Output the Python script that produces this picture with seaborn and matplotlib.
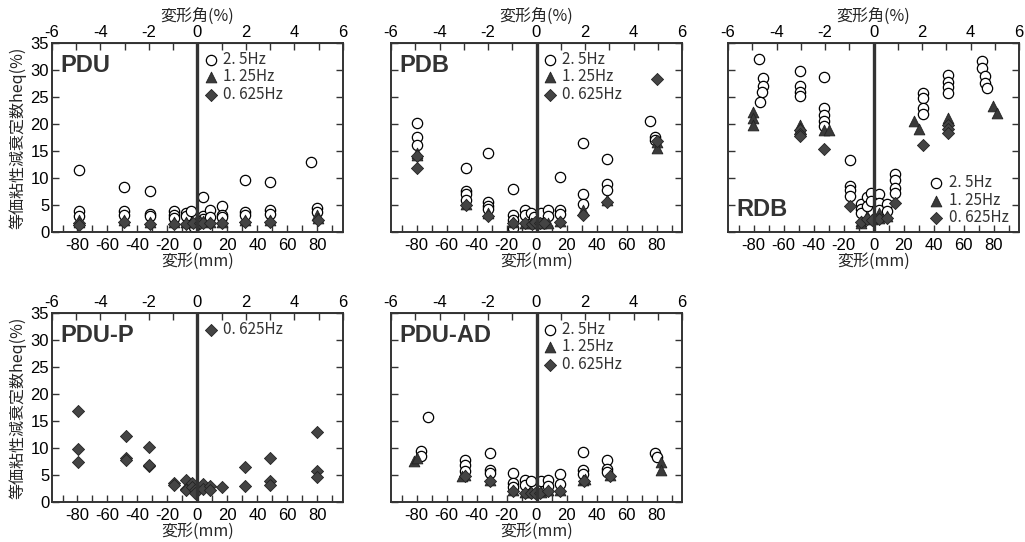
import matplotlib
matplotlib.use("Agg")
import matplotlib.pyplot as plt
import seaborn as sns
import pandas as pd
from matplotlib.ticker import FixedLocator

# ---- data (x: deformation mm, y: heq %) ----
FREQS = ["2. 5Hz", "1. 25Hz", "0. 625Hz"]

PDU_X_25 = [-79, -79, -79, -49, -49, -49, -31.6, -31.6, -31.6, -15.6, -15.6, -15.6,
            -7.6, -7.6, -4.5, -2, 4, 4, 4, 8.4, 8.4, 16.2, 16.2, 16.2, 31.8, 31.8, 31.8,
            48.4, 48.4, 48.4, 75.5, 79.5, 79.5]
PDU_Y_25 = [11.4, 3.8, 2.9, 8.4, 3.8, 3.2, 7.6, 3.3, 2.9, 3.8, 3.1, 2.6,
            3.6, 3.0, 3.8, 1.0, 6.4, 3.0, 2.5, 4.0, 2.8, 4.8, 3.2, 2.7, 9.7, 3.7, 3.2,
            9.3, 4.1, 3.4, 13.0, 4.4, 3.7]
PDU_X_125 = [-79, -79, -49, -31.6, -15.6, -7.6, -3.5, -1, 2, 4, 8.4, 16.2, 31.8, 48.4, 79.5, 80.5]
PDU_Y_125 = [2.2, 1.8, 2.3, 1.9, 1.8, 1.8, 1.9, 2.0, 2.0, 2.0, 1.8, 1.9, 2.3, 2.3, 3.1, 2.6]
PDU_X_0625 = [-79, -79, -49, -31.6, -15.6, -7.6, -3, 2, 4, 8.4, 16.2, 31.8, 48.4, 80.5]
PDU_Y_0625 = [1.7, 1.3, 1.9, 1.4, 1.5, 1.4, 1.6, 1.7, 1.7, 1.6, 1.7, 1.9, 1.9, 2.2]

PDB_X_25 = [-79.5, -79.5, -79.5, -47.3, -47.3, -47.3, -47.3, -32.2, -32.2, -32.2, -32.2,
            -15.8, -15.8, -15.8, -15.8, -7.8, -7.8, -4, -1.5, 3, 7.8, 7.8, 15.8, 15.8, 15.8,
            30.7, 30.7, 30.7, 46.7, 46.7, 46.7, 75.6, 78.7, 78.7]
PDB_Y_25 = [20.1, 17.6, 16.1, 11.9, 7.6, 7.0, 6.0, 14.6, 5.6, 4.9, 4.2,
            8.0, 3.1, 2.3, 0.8, 4.1, 3.1, 3.5, 2.8, 3.6, 4.0, 3.0, 10.1, 4.0, 3.3,
            16.5, 7.0, 5.1, 13.5, 8.9, 7.7, 20.6, 17.5, 17.0]
PDB_X_125 = [-79.5, -79.5, -47.3, -32.2, -15.8, -7.8, -4, -1, 3, 7.8, 15.8, 30.7, 46.7, 80.5, 80.5]
PDB_Y_125 = [14.6, 14.2, 5.2, 3.6, 1.8, 1.7, 1.6, 1.6, 1.7, 1.7, 2.0, 4.1, 5.9, 16.7, 15.5]
PDB_X_0625 = [-79.5, -79.5, -47.3, -32.2, -15.8, -7.8, -3, -1, 2, 5, 15.8, 30.7, 46.7, 80.5, 80]
PDB_Y_0625 = [14.0, 11.8, 5.0, 3.0, 1.7, 1.6, 1.5, 1.8, 1.6, 1.7, 1.9, 3.2, 5.6, 16.8, 28.3]

RDB_X_25 = [-76.2, -73.5, -73.5, -74.4, -75.5, -49, -49, -49, -49, -32.9, -32.9, -32.9, -32.9,
            -32.9, -15.7, -15.7, -15.7, -15.7, -8.4, -8.4, -8.4, -4.4, -4.4, -1.7, -1.7,
            3.8, 3.8, 3.8, 8.7, 8.7, 14.2, 14.2, 14.2, 14.2, 32.7, 32.7, 32.7, 32.7,
            49.6, 49.6, 49.6, 49.6, 72.3, 72.3, 74.3, 74.3, 75.5]
RDB_Y_25 = [32.1, 28.6, 27.1, 25.9, 24.1, 29.9, 27.0, 26.0, 25.2, 28.7, 23.0, 21.7, 20.6,
            19.6, 13.3, 8.5, 7.7, 6.7, 5.1, 4.3, 3.5, 6.5, 4.8, 7.3, 5.7,
            7.1, 5.4, 4.1, 5.1, 3.8, 10.8, 9.7, 8.1, 7.2, 25.7, 24.8, 23.0, 21.9,
            29.0, 27.7, 26.8, 25.7, 31.6, 30.4, 28.8, 27.6, 26.7]
RDB_X_125 = [-80.2, -80.2, -80.2, -49, -49, -32.9, -29.5, -8.4, -8.4, -4.4, -1, 3.8, 3.8,
             8.7, 26.9, 30, 49.6, 79.6, 82]
RDB_Y_125 = [22.3, 21.1, 19.9, 19.9, 19.3, 18.8, 18.8, 2.0, 1.7, 2.9, 2.5, 3.5, 2.6,
             2.9, 20.6, 19.1, 21.1, 23.4, 22.0]
RDB_X_0625 = [-49, -49, -49, -32.9, -15.7, -8.4, -4.4, -1, 3.8, 8.7, 14.2, 32.7, 49.6, 49.6, 49.6]
RDB_Y_0625 = [18.8, 18.2, 17.7, 15.4, 4.9, 1.9, 2.5, 2.2, 2.4, 2.6, 5.4, 16.2, 19.9, 19.1, 18.3]

PDUP_X_0625 = [-79.7, -79.7, -79.7, -47.8, -47.8, -47.8, -32, -32, -32, -15.6, -15.6,
               -7.8, -7.8, -7.8, -3.8, -3.8, -1.5, -1.5, 3.9, 3.9, 8.4, 8.4, 16.2,
               31.8, 31.8, 48.4, 48.4, 48.4, 80, 80, 80]
PDUP_Y_0625 = [16.9, 9.75, 7.5, 12.2, 8.1, 7.8, 10.1, 6.7, 6.9, 3.5, 3.1,
               4.1, 2.5, 2.2, 3.5, 2.8, 2.2, 1.6, 3.3, 2.5, 3.0, 2.3, 2.7,
               6.4, 3.0, 8.1, 3.8, 3.1, 12.9, 5.7, 4.7]

PDUAD_X_25 = [-72.4, -77.3, -77.3, -47.8, -47.8, -47.8, -31, -31, -31, -15.7, -15.7, -15.7,
              -7.8, -7.8, -3.8, 3, 7.8, 7.8, 15.8, 15.8, 30.7, 30.7, 30.7, 47, 47, 47, 79.3, 80.5]
PDUAD_Y_25 = [15.7, 9.4, 8.5, 7.8, 6.9, 5.8, 9.0, 5.9, 5.4, 5.4, 3.5, 2.8,
              4.0, 3.1, 3.8, 3.8, 4.0, 3.0, 5.2, 3.3, 9.2, 5.9, 5.2, 7.8, 6.2, 5.6, 9.1, 8.4]
PDUAD_X_125 = [-81.8, -80, -47.8, -49.5, -31, -15.7, -7.8, -3.8, 3, 7.8, 15.8, 30.7, 32, 49.3, 82.7, 82.7]
PDUAD_Y_125 = [7.6, 8.1, 5.0, 4.8, 4.1, 2.2, 1.9, 1.9, 1.9, 2.2, 2.3, 4.0, 4.2, 5.0, 7.5, 5.9]
PDUAD_X_0625 = [-47.8, -31, -15.7, -7.8, -3.8, -1, 2, 7.8, 15.8, 31.5, 49.3]
PDUAD_Y_0625 = [4.9, 3.9, 2.0, 1.7, 1.7, 1.6, 1.7, 2.0, 2.1, 3.8, 4.8]

MM_TICKS = [-80, -60, -40, -20, 0, 20, 40, 60, 80]
MM_MINOR = [-90, -70, -50, -30, -10, 10, 30, 50, 70, 90]
PCT_TICKS = [-6, -4, -2, 0, 2, 4, 6]
PCT_MINOR = [-5, -3, -1, 1, 3, 5]
HEQ_TICKS = [0, 5, 10, 15, 20, 25, 30, 35]

MM_PER_PCT = 97.0 / 6.0   # top axis: 6 % <-> 97 mm

sns.set_style("ticks")
plt.rcParams["font.family"] = ["Liberation Sans", "Noto Sans CJK JP", "DejaVu Sans"]
plt.rcParams["axes.unicode_minus"] = False
CJK = ["Noto Sans CJK JP", "DejaVu Sans"]
DARK = "#333333"

STYLE = {
    "2. 5Hz": dict(marker="o", facecolor="white", edgecolor="black", linewidth=0.9, s=55),
    "1. 25Hz": dict(marker="^", facecolor="#3a3a3a", edgecolor="#222222", linewidth=0.6, s=60),
    "0. 625Hz": dict(marker="D", facecolor="#444444", edgecolor="#222222", linewidth=0.6, s=38),
}


def make_frame(series):
    rows = []
    for freq, xs, ys in series:
        rows += [{"mm": x, "heq": y, "freq": freq} for x, y in zip(xs, ys)]
    return pd.DataFrame(rows)


def draw_panel(ax, df, name, name_pos, legend_anchor, legend_loc, first_col, top_label):
    for freq in FREQS:
        sub = df[df["freq"] == freq]
        if sub.empty:
            continue
        sns.scatterplot(data=sub, x="mm", y="heq", ax=ax, label=freq, **STYLE[freq])
    ax.axvline(0, color=DARK, lw=2.4, zorder=1)
    ax.set_xlim(-97, 97)
    ax.set_ylim(0, 35)
    ax.xaxis.set_major_locator(FixedLocator(MM_TICKS))
    ax.xaxis.set_minor_locator(FixedLocator(MM_MINOR))
    ax.yaxis.set_major_locator(FixedLocator(HEQ_TICKS))
    ax.tick_params(which="both", direction="in", top=False, right=True,
                   length=5, width=1.0, colors=DARK, labelsize=12, labelcolor="black")
    ax.tick_params(axis="x", which="major", pad=4)
    ax.tick_params(axis="y", pad=2)
    if not first_col:
        ax.tick_params(axis="y", labelleft=False)
    for sp in ax.spines.values():
        sp.set_color(DARK)
        sp.set_linewidth(1.4)
    ax.set_xlabel("変形(mm)", family=CJK, fontsize=11.5, labelpad=0)
    if first_col:
        ax.set_ylabel("等価粘性減衰定数heq(%)", family=CJK, fontsize=11.5, labelpad=3)
    else:
        ax.set_ylabel("")

    sec = ax.secondary_xaxis("top", functions=(lambda m: m / MM_PER_PCT,
                                               lambda p: p * MM_PER_PCT))
    sec.xaxis.set_major_locator(FixedLocator(PCT_TICKS))
    sec.xaxis.set_minor_locator(FixedLocator(PCT_MINOR))
    sec.tick_params(which="both", direction="in", length=5, width=1.0,
                    colors=DARK, labelsize=12, labelcolor="black", pad=2)
    if top_label:
        sec.set_xlabel("変形角(%)", family=CJK, fontsize=11.5, labelpad=3)

    ax.text(name_pos[0], name_pos[1], name, transform=ax.transAxes, fontsize=17,
            fontweight="bold", color=DARK, ha="left", va="center", zorder=5)
    leg = ax.legend(loc=legend_loc, bbox_to_anchor=legend_anchor, frameon=False,
                    handletextpad=0.3, labelspacing=0.05, borderpad=0, borderaxespad=0,
                    handlelength=1.0, prop={"family": CJK, "size": 11})
    for t in leg.get_texts():
        t.set_color(DARK)


fig = plt.figure(figsize=(10.25, 5.42), dpi=100)
W, H = 291 / 1025, 189 / 542
ax1 = fig.add_axes([52 / 1025, 310 / 542, W, H])
ax2 = fig.add_axes([391 / 1025, 310 / 542, W, H])
ax3 = fig.add_axes([728 / 1025, 310 / 542, W, H])
ax4 = fig.add_axes([52 / 1025, 40 / 542, W, H])
ax5 = fig.add_axes([391 / 1025, 40 / 542, W, H])

pdu = make_frame([(FREQS[0], PDU_X_25, PDU_Y_25), (FREQS[1], PDU_X_125, PDU_Y_125),
                  (FREQS[2], PDU_X_0625, PDU_Y_0625)])
pdb = make_frame([(FREQS[0], PDB_X_25, PDB_Y_25), (FREQS[1], PDB_X_125, PDB_Y_125),
                  (FREQS[2], PDB_X_0625, PDB_Y_0625)])
rdb = make_frame([(FREQS[0], RDB_X_25, RDB_Y_25), (FREQS[1], RDB_X_125, RDB_Y_125),
                  (FREQS[2], RDB_X_0625, RDB_Y_0625)])
pdup = make_frame([(FREQS[2], PDUP_X_0625, PDUP_Y_0625)])
pduad = make_frame([(FREQS[0], PDUAD_X_25, PDUAD_Y_25), (FREQS[1], PDUAD_X_125, PDUAD_Y_125),
                    (FREQS[2], PDUAD_X_0625, PDUAD_Y_0625)])

draw_panel(ax1, pdu, "PDU", (0.03, 0.88), (0.52, 0.96), "upper left", True, True)
draw_panel(ax2, pdb, "PDB", (0.03, 0.88), (0.52, 0.96), "upper left", False, True)
draw_panel(ax3, rdb, "RDB", (0.03, 0.12), (0.69, 0.03), "lower left", False, True)
draw_panel(ax4, pdup, "PDU-P", (0.03, 0.88), (0.52, 0.96), "upper left", True, False)
draw_panel(ax5, pduad, "PDU-AD", (0.03, 0.88), (0.52, 0.96), "upper left", False, False)

fig.savefig("out.png", dpi=100)
